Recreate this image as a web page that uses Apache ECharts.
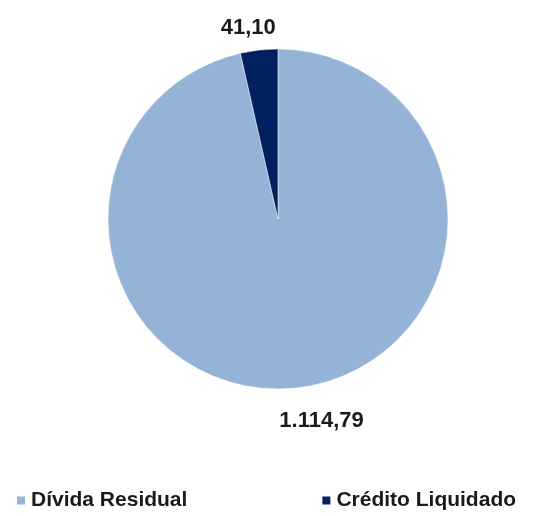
<!DOCTYPE html>
<html>
<head>
<meta charset="utf-8">
<script src="https://cdn.jsdelivr.net/npm/echarts@6/dist/echarts.min.js"></script>
<style>
  html, body { margin: 0; padding: 0; background: #fff; }
  #chart { width: 541px; height: 516px; }
</style>
</head>
<body>
<div id="chart"></div>
<script>
const categories = ['Dívida Residual', 'Crédito Liquidado']
const values = [1114.79, 41.10]
const colorList = ['#95B3D7', '#002060']

// valores no formato pt: 1.114,79
function fmt(v) {
  const parts = v.toFixed(2).split('.')
  return parts[0].replace(/\B(?=(\d{3})+(?!\d))/g, '.') + ',' + parts[1]
}

// ajuste fino da posição dos rótulos
const labelShift = [
  { dx: -24, dy: 21 },
  { dx: 23, dy: -10 },
]

const chart = echarts.init(document.getElementById('chart'))
chart.setOption({
  backgroundColor: '#fff',
  animation: false,
  color: colorList,
  legend: {
    bottom: 0,
    left: 10,
    itemWidth: 10,
    itemHeight: 10,
    itemGap: 133,
    icon: 'rect',
    textStyle: {
      fontFamily: 'Liberation Sans',
      fontWeight: 'bold',
      fontSize: 21,
      color: '#1a1a1a',
    },
    data: categories,
  },
  series: [
    {
      type: 'pie',
      center: [278, 219],
      radius: 170,
      startAngle: 90,
      clockwise: true,
      data: categories.map((name, i) => ({ name, value: values[i] })),
      itemStyle: {
        borderColor: '#fff',
        borderWidth: 0.5,
      },
      label: {
        show: true,
        position: 'outside',
        formatter: (p) => fmt(p.value),
        fontFamily: 'Liberation Sans',
        fontWeight: 'bold',
        fontSize: 22,
        color: '#1a1a1a',
      },
      labelLine: {
        show: false,
        length: 12,
        length2: 0,
      },
      labelLayout: (params) => labelShift[params.dataIndex],
      emphasis: { disabled: true },
    },
  ],
})
</script>
</body>
</html>
